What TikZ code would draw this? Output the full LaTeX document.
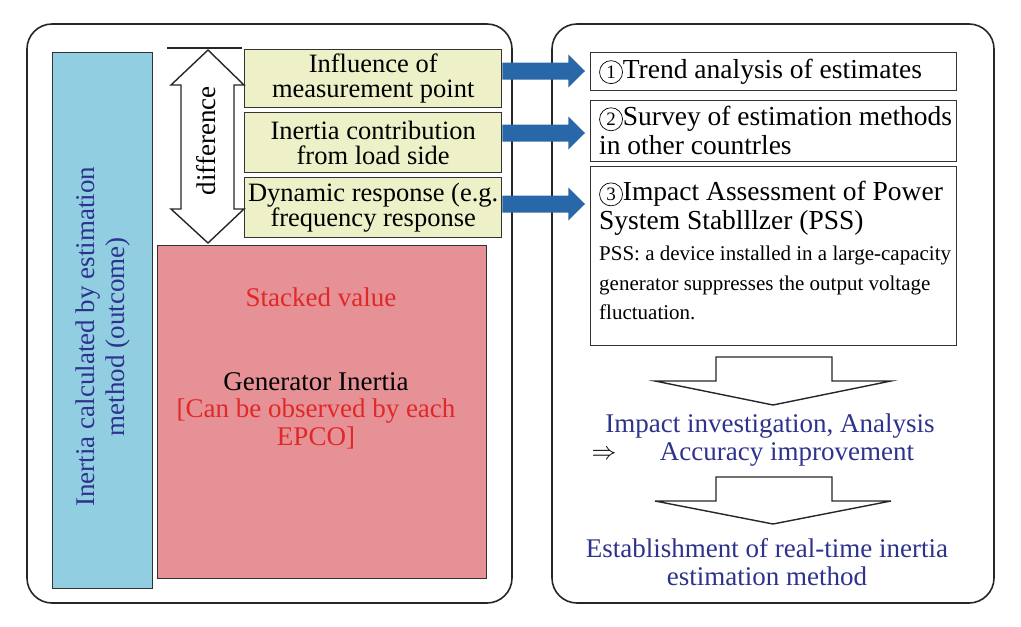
\documentclass[tikz,border=0pt]{standalone}
\usepackage{fontspec}
\setmainfont{Liberation Serif}
\usetikzlibrary{calc}
\definecolor{bluefill}{RGB}{146,206,226}
\definecolor{navy}{RGB}{45,50,140}
\definecolor{yellowfill}{RGB}{238,240,200}
\definecolor{pinkfill}{RGB}{229,145,150}
\definecolor{redtext}{RGB}{225,40,40}
\definecolor{arrowblue}{RGB}{40,104,168}
\newcommand\Fbig{\fontsize{27}{28}\selectfont}
\newcommand\Fy{\fontsize{26.5}{25}\selectfont}
\newcommand\Fr{\fontsize{27.5}{29}\selectfont}
\newcommand\Fs{\fontsize{21}{29.5}\selectfont}
\newcommand\cnum[1]{\tikz[baseline=(cn.base)]\node[circle,draw,line width=0.7pt,inner sep=0pt,
  minimum size=23pt](cn){\fontsize{19}{19}\selectfont #1};}
\tikzset{
  outer/.style={draw=black!85, line width=1.6pt, rounded corners=25pt},
  boxbase/.style={draw=black!80, line width=1.4pt, anchor=north west, inner sep=0pt},
  ybox/.style={boxbase, fill=yellowfill, minimum width=257pt, align=center, font={\baselineskip=25pt}},
  rbox/.style={boxbase, fill=white, minimum width=366pt},
  rtext/.style={anchor=north west, inner sep=0pt, align=left},
  bigtext/.style={align=center, font={\baselineskip=28pt}},
  bluearrow/.style={fill=arrowblue, draw=none},
  downarrow/.style={draw=black!85, line width=1.4pt, fill=white, line join=miter},
}
\begin{document}
\begin{tikzpicture}[x=1pt,y=-1pt]
\useasboundingbox (0,0) rectangle (1021,627);
% outer frames
\draw[outer] (27,24) rectangle (512,603);
\draw[outer] (552,24) rectangle (994,603);
% left side
\node[boxbase, fill=bluefill, minimum width=100pt, minimum height=536pt] (blue) at (52,52) {};
\node[rotate=90, text=navy, bigtext, font={\baselineskip=30pt}] (bluetext) at ($(blue.center)+(0,16)$)
  {\Fbig Inertia calculated by estimation\\\Fbig method (outcome)};
\node[ybox, minimum height=58pt] (y1) at (244,49) {\Fy Influence of\\\Fy measurement point};
\node[ybox, minimum height=60pt] (y2) at (244,112) {\Fy Inertia contribution\\\Fy from load side};
\node[ybox, minimum height=60pt] (y3) at (244,177) {\Fy Dynamic response (e.g.\\\Fy frequency response};
\node[boxbase, fill=pinkfill, minimum width=329pt, minimum height=333pt] (pink) at (157,245) {};
\node[bigtext, text=redtext] (stacked) at (321,297) {\Fbig Stacked value};
\node[bigtext, anchor=north, font={\baselineskip=27.5pt}] (gen) at (316,369)
  {\Fbig Generator Inertia\\\Fbig\textcolor{redtext}{[Can be observed by each}\\\Fbig\textcolor{redtext}{EPCO]}};
% difference double arrow
\draw[line width=1.4pt, black!85] (167,48) coordinate (dl) -- (242,48) coordinate (dr);
\draw[downarrow] (208,50) -- (244,85) -- (234,85) -- (234,209) -- (244,209) -- (208,243)
  -- (171,209) -- (181,209) -- (181,85) -- (171,85) -- cycle;
\node[rotate=90, bigtext] (diff) at (206,141) {\Fbig difference};
% right side boxes
\node[rbox, minimum height=38pt] (r1) at (590,52) {};
\node[anchor=west, inner sep=0pt] (r1text) at ($(r1.west)+(9,0)$) {\Fr\cnum{1}Trend analysis of estimates};
\node[rbox, minimum height=61pt] (r2) at (590,100) {};
\node[rtext, font={\baselineskip=29pt}] (r2text) at ($(r2.north west)+(9,6)$)
  {\Fr\cnum{2}Survey of estimation methods\\\Fr in other countrles};
\node[rbox, minimum height=179pt] (r3) at (590,166) {};
\node[rtext, font={\baselineskip=29pt}] (r3title) at ($(r3.north west)+(9,15)$)
  {\Fr\cnum{3}Impact Assessment of Power\\\Fr System Stablllzer (PSS)};
\node[rtext, font={\baselineskip=29.5pt}] (r3text) at ($(r3.north west)+(9,80)$)
  {\Fs PSS: a device installed in a large-capacity\\\Fs generator suppresses the output voltage\\\Fs fluctuation.};
% blue arrows
\foreach \src/\dst/\dy in {y1/r1/19, y2/r2/33, y3/r3/38}{
  \coordinate (s) at ($(\src.east|-\dst.north)+(0,\dy)$);
  \fill[bluearrow] ($(s)+(0,-8.5)$) -- ($(s)+(66,-8.5)$) -- ($(s)+(66,-16.5)$)
     -- ($(\dst.west|-s)+(-5,0)$) -- ($(s)+(66,16.5)$) -- ($(s)+(66,8.5)$) -- ($(s)+(0,8.5)$) -- cycle;
}
% down arrows and results
\draw[downarrow] (716,357) -- (832,357) -- (832,381) -- (891,381) -- (773,405) -- (655,381) -- (716,381) -- cycle;
\node[bigtext, text=navy] (impact) at (770,426) {\Fbig Impact investigation, Analysis};
\node[bigtext, text=navy] (acc) at (787,454) {\Fbig Accuracy improvement};
\node (imp) at (604,455) {\fontsize{26}{28}\selectfont$\Rightarrow$};
\draw[downarrow] (716,477) -- (832,477) -- (832,501) -- (891,501) -- (773,524) -- (655,501) -- (716,501) -- cycle;
\node[bigtext, text=navy] (estab) at (767,562) {\Fbig Establishment of real-time inertia\\\Fbig estimation method};
\end{tikzpicture}
\end{document}
